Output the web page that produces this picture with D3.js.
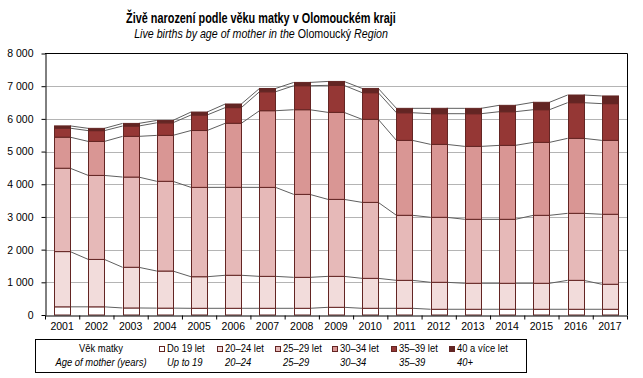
<!DOCTYPE html>
<html>
<head>
<meta charset="utf-8">
<script src="https://cdn.jsdelivr.net/npm/d3@7"></script>
<style>
  body { margin: 0; background: #fff; }
  svg { display: block; }
  text { font-family: "Liberation Sans", Arial, sans-serif; fill: #000; }
  .axis text { font-size: 10.5px; }
  .axis path, .axis line { stroke: #000; }
</style>
</head>
<body>
<div id="chart"></div>
<script>
// data
var years = ["2001","2002","2003","2004","2005","2006","2007","2008","2009",
             "2010","2011","2012","2013","2014","2015","2016","2017"];
var age_cz = ["Do 19 let", "20–24 let", "25–29 let", "30–34 let", "35–39 let", "40 a více let"];
var age_en = ["Up to 19", "20–24", "25–29", "30–34", "35–39", "40+"];
var upto19 = [250, 250, 215, 210, 205, 205, 205, 205, 235, 205, 205, 175, 175, 175, 175, 175, 175];
var age20_24 = [1690, 1450, 1245, 1135, 966, 1010, 977, 947, 947, 916, 855, 825, 795, 795, 795, 885, 765];
var age25_29 = [2550, 2570, 2760, 2745, 2733, 2690, 2722, 2538, 2355, 2324, 1990, 1988, 1957, 1957, 2079, 2050, 2141];
var age30_34 = [950, 1040, 1245, 1405, 1740, 1960, 2346, 2590, 2662, 2540, 2292, 2231, 2231, 2262, 2232, 2294, 2261];
var age35_39 = [275, 330, 316, 385, 475, 480, 580, 735, 826, 816, 846, 940, 1000, 1030, 1000, 1091, 1124];
var age40plus = [70, 70, 80, 72, 90, 110, 100, 100, 120, 130, 134, 164, 164, 195, 226, 235, 235];
var y_ticks = [0, 1000, 2000, 3000, 4000, 5000, 6000, 7000, 8000];

var colors = ["#ffffff", "#f2dcdb", "#e6b9b8", "#d99694", "#953735", "#632523"];
var edge = "#632523";

// no Arial Narrow here, so squeeze the normal face instead
function narrow_text(parent, x, y, str, size, sx){
    return parent.append("text")
        .attr("transform", "translate(" + x + "," + y + ") scale(" + (sx || 0.82) + ",1)")
        .style("font-size", size + "px")
        .text(str);
}

function create_chart(div_id){
    var width = 643, height = 378;
    var left = 45, right = 627, top = 53.5, bottom = 315;

    var keys = ["a", "b", "c", "d", "e", "f"];
    var series_data = [upto19, age20_24, age25_29, age30_34, age35_39, age40plus];
    var rows = years.map(function(y, i){
        var r = {year: y};
        keys.forEach(function(k, j){ r[k] = series_data[j][i]; });
        return r;
    });
    var stacked = d3.stack().keys(keys)(rows);

    var svg = d3.select(div_id).append("svg")
        .attr("width", width)
        .attr("height", height);

    var xBand = d3.scaleBand()
        .domain(years)
        .range([left, right])
        .paddingInner(0.53)
        .paddingOuter(0.265);
    var xEdge = d3.scaleLinear()
        .domain([0, years.length])
        .range([left, right]);
    var yScale = d3.scaleLinear()
        .domain([0, 8000])
        .range([bottom, top]);

    var loc = d3.formatLocale({decimal: ",", thousands: "\u00a0", grouping: [3], currency: ["", ""]});
    var fmt = loc.format(",");

    // grid
    svg.append("g")
        .selectAll("line")
        .data(y_ticks.slice(1, -1))
        .join("line")
        .attr("x1", left).attr("x2", right)
        .attr("y1", function(d){ return Math.round(yScale(d)) + 0.5; })
        .attr("y2", function(d){ return Math.round(yScale(d)) + 0.5; })
        .attr("stroke", "#b4b4b4");

    // series lines between bars
    var lineG = svg.append("g");
    stacked.forEach(function(s){
        for (var i = 0; i < years.length - 1; i++){
            lineG.append("line")
                .attr("x1", xBand(years[i]) + xBand.bandwidth())
                .attr("x2", xBand(years[i + 1]))
                .attr("y1", yScale(s[i][1]))
                .attr("y2", yScale(s[i + 1][1]))
                .attr("stroke", "#5f5f5f")
                .attr("stroke-width", 1);
        }
    });

    // bars
    svg.append("g")
        .selectAll("g")
        .data(stacked)
        .join("g")
        .attr("fill", function(d, i){ return colors[i]; })
        .selectAll("rect")
        .data(function(d){ return d; })
        .join("rect")
        .attr("x", function(d){ return Math.round(xBand(d.data.year)) + 0.5; })
        .attr("width", Math.round(xBand.bandwidth()))
        .attr("y", function(d){ return yScale(d[1]); })
        .attr("height", function(d){ return yScale(d[0]) - yScale(d[1]); })
        .attr("stroke", edge)
        .attr("stroke-width", 1);

    // frame: top and right
    svg.append("line")
        .attr("x1", left).attr("x2", right + 0.5)
        .attr("y1", top).attr("y2", top)
        .attr("stroke", "#000");
    svg.append("line")
        .attr("x1", right + 0.5).attr("x2", right + 0.5)
        .attr("y1", top).attr("y2", bottom)
        .attr("stroke", "#000");

    // y axis
    svg.append("g")
        .attr("class", "axis")
        .attr("transform", "translate(" + (left + 0.5) + ",0)")
        .call(d3.axisLeft(yScale).tickValues(y_ticks).tickSize(4).tickSizeOuter(0).tickPadding(8).tickFormat(fmt));

    // x axis: ticks on category edges, labels in the middle
    svg.append("g")
        .attr("class", "axis")
        .attr("transform", "translate(0," + (bottom + 0.5) + ")")
        .call(d3.axisBottom(xEdge).ticks(years.length).tickSize(4).tickSizeOuter(0).tickFormat(""));
    svg.append("g")
        .attr("class", "axis")
        .selectAll("text")
        .data(years)
        .join("text")
        .attr("x", function(d){ return xBand(d) + xBand.bandwidth() / 2; })
        .attr("y", 329.5)
        .attr("text-anchor", "middle")
        .text(function(d){ return d; });

    // titles
    narrow_text(svg, 261, 22.5, "Živě narození podle věku matky v Olomouckém kraji", 14.5, 0.75)
        .attr("text-anchor", "middle")
        .style("font-weight", "bold");
    var sub = narrow_text(svg, 261, 37.5, "", 12, 0.89)
        .attr("text-anchor", "middle");
    sub.append("tspan").style("font-style", "italic").text("Live births by age of mother in the ");
    sub.append("tspan").text("Olomoucký ");
    sub.append("tspan").style("font-style", "italic").text("Region");

    // legend
    var lg = svg.append("g");
    lg.append("rect")
        .attr("x", 35.5).attr("y", 339.5)
        .attr("width", 491).attr("height", 33)
        .attr("fill", "none").attr("stroke", "#000");
    narrow_text(lg, 101, 352, "Věk matky", 11.5).attr("text-anchor", "middle");
    narrow_text(lg, 101, 365.5, "Age of mother (years)", 11.5).attr("text-anchor", "middle")
        .style("font-style", "italic");

    var item_x = [167, 225, 283, 340, 399, 457];
    age_cz.forEach(function(label, i){
        lg.append("rect")
            .attr("x", item_x[i] - 7.5).attr("y", 346.5)
            .attr("width", 5).attr("height", 5)
            .attr("fill", colors[i])
            .attr("stroke", edge);
        narrow_text(lg, item_x[i], 352, label, 11.5);
        narrow_text(lg, item_x[i], 365.5, age_en[i], 11.5).style("font-style", "italic");
    });
}

create_chart("#chart");
</script>
</body>
</html>
